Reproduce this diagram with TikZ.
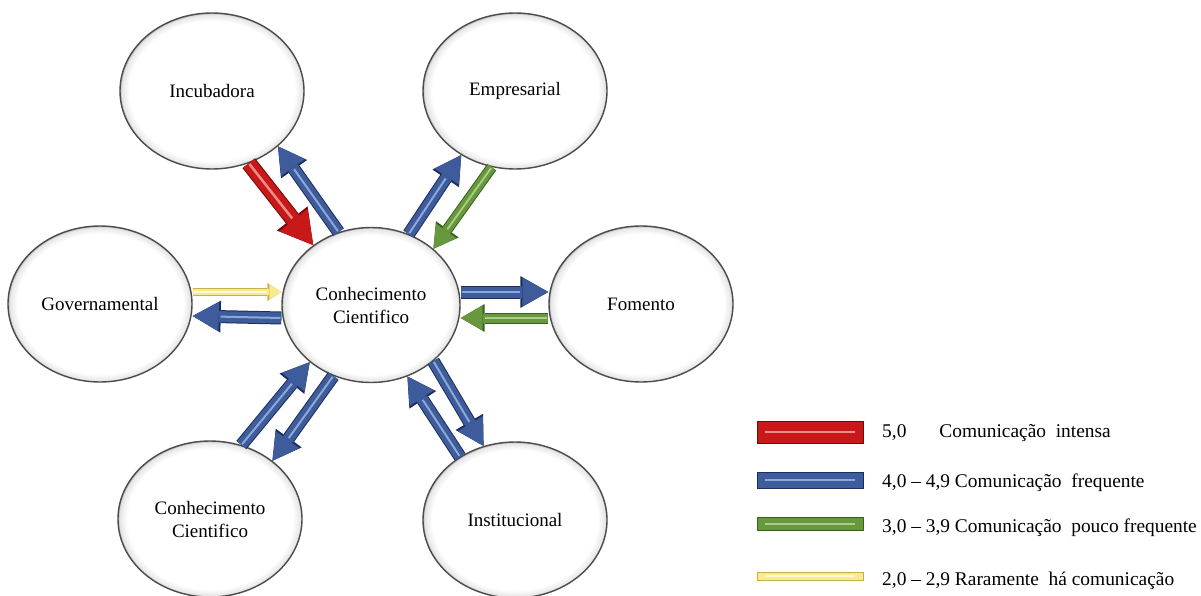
\documentclass[tikz,border=0pt]{standalone}
\usepackage{fontspec}
\setmainfont{Liberation Serif}
\usepackage{tikz}
\usetikzlibrary{positioning, arrows.meta, shapes.geometric}

\definecolor{redmain}{RGB}{200,24,24}
\definecolor{reddark}{RGB}{110,10,10}
\definecolor{redlight}{RGB}{236,140,140}
\definecolor{bluemain}{RGB}{62,92,156}
\definecolor{bluedark}{RGB}{28,44,92}
\definecolor{bluelight}{RGB}{140,168,215}
\definecolor{greenmain}{RGB}{104,152,62}
\definecolor{greendark}{RGB}{56,96,30}
\definecolor{greenlight}{RGB}{170,206,134}
\definecolor{yellowmain}{RGB}{250,234,140}
\definecolor{yellowdark}{RGB}{196,176,80}
\definecolor{yellowlight}{RGB}{255,250,215}

\pgfdeclareradialshading{rim}{\pgfpoint{0bp}{0bp}}{color(0bp)=(white); color(22.5bp)=(white); color(24.6bp)=(black!10); color(25bp)=(black!30); color(50bp)=(black!30)}

\tikzset{
    sphere/.style={ellipse, draw=black!70, line width=1.4pt, shading=rim, minimum width=184pt, minimum height=156pt, inner sep=0pt, align=center, font=\fontsize{19}{23}\selectfont},
    intensa/.style={draw=redmain, line width=14pt, -{Triangle[length=32pt, width=36pt, line width=0pt]},
        preaction={draw=reddark, line width=16pt, -{Triangle[length=34pt, width=39pt, line width=0pt]}},
        postaction={draw=redlight, line width=2.5pt, -, shorten >=34pt, shorten <=1pt}},
    frequente/.style={draw=bluemain, line width=11pt, -{Triangle[length=26pt, width=29pt, line width=0pt]},
        preaction={draw=bluedark, line width=13pt, -{Triangle[length=28pt, width=32pt, line width=0pt]}},
        postaction={draw=bluelight, line width=2pt, -, shorten >=28pt, shorten <=1pt}},
    pouco/.style={draw=greenmain, line width=9pt, -{Triangle[length=22pt, width=25pt, line width=0pt]},
        preaction={draw=greendark, line width=11pt, -{Triangle[length=24pt, width=28pt, line width=0pt]}},
        postaction={draw=greenlight, line width=1.8pt, -, shorten >=24pt, shorten <=1pt}},
    rara/.style={draw=yellowmain, line width=6pt, -{Triangle[length=12pt, width=15pt, line width=0pt]},
        preaction={draw=yellowdark, line width=8pt, -{Triangle[length=14pt, width=18pt, line width=0pt]}},
        postaction={draw=yellowlight, line width=1.5pt, -, shorten >=14pt, shorten <=1pt}},
    legbar/.style={rectangle, minimum width=106pt, inner sep=0pt, line width=1pt},
    stripe/.style={path picture={\draw[#1, line width=2pt] ([xshift=8pt]path picture bounding box.west) -- ([xshift=-8pt]path picture bounding box.east);}},
    legtext/.style={anchor=base west, inner sep=0pt, font=\fontsize{19.4}{23}\selectfont}
}

\begin{document}
\begin{tikzpicture}[x=1pt, y=-1pt]
    \useasboundingbox (0,0) rectangle (1201,596);

    % the seven ellipses
    \node[sphere] (inc) at (212,91) {Incubadora};
    \node[sphere] (emp) at (515,91) {Empresarial};
    \node[sphere] (gov) at (100,304) {Governamental};
    \node[sphere, minimum width=178pt, minimum height=155pt] (cen) at (371,305) {Conhecimento\\Cientifico};
    \node[sphere] (fom) at (641,304) {Fomento};
    \node[sphere] (cie) at (210,519) {Conhecimento\\Cientifico};
    \node[sphere] (ins) at (515,520) {Institucional};

    % communication flows
    \draw[intensa] (inc.-63) -- (cen.134);
    \draw[frequente] (cen.114) -- (inc.-40);
    \draw[frequente] (cen.62) -- (emp.-130);
    \draw[pouco] (emp.-107) -- (cen.42);
    \draw[rara] ([yshift=12pt]gov.east) -- ([yshift=13pt]cen.west);
    \draw[frequente] ([yshift=-13pt]cen.west) -- ([yshift=-12pt]gov.east);
    \draw[frequente] ([yshift=13pt]cen.east) -- ([yshift=12pt]fom.west);
    \draw[pouco] ([yshift=-14pt]fom.west) -- ([yshift=-13pt]cen.east);
    \draw[frequente] (cie.67) -- (cen.-137);
    \draw[frequente] (cen.-118) -- (cie.43);
    \draw[frequente] (cen.-42) -- (ins.113);
    \draw[frequente] (ins.131) -- (cen.-63);

    % legend
    \node[legbar, fill=redmain, draw=reddark, minimum height=22pt, stripe=redlight] (barA) at (810,432) {};
    \node[legbar, fill=bluemain, draw=bluedark, minimum height=16pt, stripe=bluelight] (barB) at (810,480) {};
    \node[legbar, fill=greenmain, draw=greendark, minimum height=13pt, stripe=greenlight] (barC) at (810,523.5) {};
    \node[legbar, fill=yellowmain, draw=yellowdark, minimum height=8pt, stripe=yellowlight] (barD) at (810,576) {};
    \node[legtext] (txtA) at (882,437) {5,0\hspace{33pt}Comunicação\ \ intensa};
    \node[legtext] (txtB) at (882,487) {4,0 – 4,9 Comunicação\ \ frequente};
    \node[legtext] (txtC) at (882,532) {3,0 – 3,9 Comunicação\ \ pouco frequente};
    \node[legtext] (txtD) at (882,585) {2,0 – 2,9 Raramente\ \ há comunicação};
\end{tikzpicture}
\end{document}
